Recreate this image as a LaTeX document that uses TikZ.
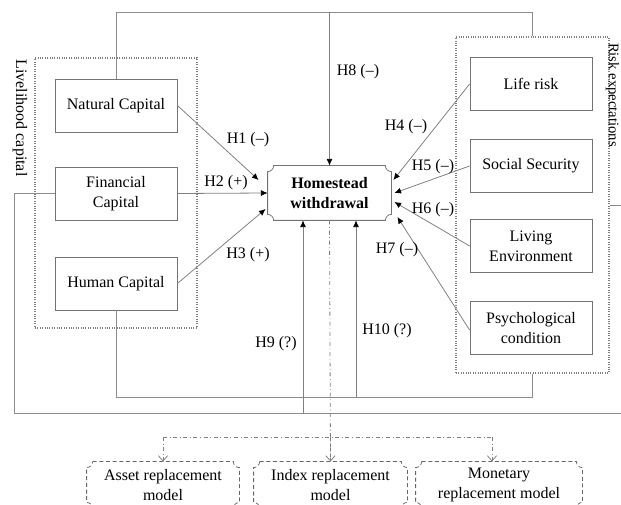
\documentclass[tikz,border=0pt]{standalone}
\usepackage{fontspec}
\setmainfont{Liberation Serif}
\usepackage{tikz}
\usetikzlibrary{arrows.meta, calc, positioning}

% box with hollow (concave) corners
\newcommand{\scallop}[2][]{%
  \draw[#1] ($(#2.north west)+(6,0)$) -- ($(#2.north east)+(-6,0)$)
    arc[start angle=180, end angle=270, radius=4.5pt]
    -- ($(#2.south east)+(0,-6)$)
    arc[start angle=90, end angle=180, radius=4.5pt]
    -- ($(#2.south west)+(6,0)$)
    arc[start angle=0, end angle=90, radius=4.5pt]
    -- ($(#2.north west)+(0,6)$)
    arc[start angle=270, end angle=360, radius=4.5pt] -- cycle;}

\begin{document}
\begin{tikzpicture}[x=0.75pt, y=-0.75pt, line width=0.6pt,
    font=\fontsize{12}{15}\selectfont,
    capbox/.style={draw=black!55, minimum width=91.5pt, minimum height=39.75pt, align=center, inner sep=1pt},
    groupbox/.style={draw=black!50, densely dotted, line width=0.8pt},
    link/.style={draw=black!45},
    hyp/.style={draw=black!50, -{Latex[length=5pt, width=4.5pt, color=black]}},
    model/.style={draw=black!50, dash dot},
    modelbox/.style={minimum height=34.5pt, align=center, inner sep=1pt}]
  \useasboundingbox (0,0) rectangle (621,505);

  % livelihood capital
  \node[groupbox, minimum width=121.5pt, minimum height=202.5pt] (lc) at (116,193) {};
  \node[rotate=-90] (lclabel) at (20,118) {Livelihood capital};
  \node[capbox] (nat) at (116,105.5) {Natural Capital};
  \node[capbox] (fin) at (116,193.5) {Financial\\Capital};
  \node[capbox] (hum) at (116,283.5) {Human Capital};

  % risk expectations
  \node[groupbox, minimum width=114.75pt, minimum height=252pt] (risk) at (532.5,205) {};
  \node[rotate=-90, inner sep=0pt, font=\fontsize{11}{13}\selectfont] (risklabel) at (612.5,95) {Risk expectations};
  \node[capbox] (life) at (531,84) {Life risk};
  \node[capbox] (soc) at (531,166) {Social Security};
  \node[capbox] (liv) at (531,246) {Living\\Environment};
  \node[capbox] (psy) at (531,328) {Psychological\\condition};

  % outcome
  \node[minimum width=92.25pt, minimum height=40.5pt, align=center, font=\fontsize{12}{15}\selectfont\bfseries] (hw) at (329.5,193) {Homestead\\withdrawal};
  \scallop[draw=black!55]{hw}

  % loops
  \coordinate (ttop) at (0,12);
  \coordinate (bin) at (0,397);
  \coordinate (bout) at (14,413);
  \coordinate (far) at (630,0);
  \draw[link] (nat.north) |- (ttop -| risk.north) -- (risk.north);
  \draw[link] (hum.south) |- (bin -| risk.south) -- (risk.south);
  \draw[link] (fin.west) -| (bout) -- (bout -| far) |- (risk.east);

  % hypotheses
  \draw[hyp] (nat.east) -- ($(hw.west)+(-9,-13)$);
  \draw[hyp] (fin.east) -- (hw.west);
  \draw[hyp] (hum.east) -- ($(hw.west)+(-2,16)$);
  \draw[hyp] (life.west) -- ($(hw.east)+(2,-13)$);
  \draw[hyp] (soc.west) -- ($(hw.east)+(3,0)$);
  \draw[hyp] (liv.west) -- ($(hw.east)+(3,9)$);
  \draw[hyp] ($(psy.west)+(0,2)$) -- ($(hw.east)+(6,24)$);
  \draw[hyp] (hw.north |- ttop) -- (hw.north);
  \coordinate (h9) at (303,413);
  \coordinate (h10) at (356,397);
  \draw[hyp] (h9) -- (h9 |- hw.south);
  \draw[hyp] (h10) -- (h10 |- hw.south);

  \node (l1) at (248,140) {H1 (–)};
  \node (l2) at (226,183) {H2 (+)};
  \node (l3) at (248,255) {H3 (+)};
  \node (l4) at (406,127) {H4 (–)};
  \node (l5) at (433,167) {H5 (–)};
  \node (l6) at (433,210) {H6 (–)};
  \node (l7) at (397,250) {H7 (–)};
  \node (l8) at (358,72) {H8 (–)};
  \node (l9) at (276,344) {H9 (?)};
  \node (l10) at (387,331) {H10 (?)};

  % replacement models
  \node[modelbox, minimum width=114pt] (asset) at (163,485) {Asset replacement\\model};
  \node[modelbox, minimum width=114.75pt] (index) at (330.5,485) {Index replacement\\model};
  \node[modelbox, minimum width=124.5pt] (mon) at (499,485) {Monetary\\replacement model};
  \foreach \m in {asset, index, mon} {
    \scallop[draw=black!60, densely dashed]{\m}
  }
  \coordinate (msplit) at (0,437);
  \draw[model] (hw.south) -- (index.north);
  \draw[model] (asset.north |- msplit) -- ($(mon.north |- msplit)+(-7,0)$);
  \draw[model, -{Straight Barb[length=4pt, width=7pt]}] (asset.north |- msplit) -- (asset.north);
  \draw[model, -{Straight Barb[length=4pt, width=7pt]}] ($(hw.south)!0.9!(index.north)$) -- (index.north);
  \draw[model, -{Straight Barb[length=4pt, width=7pt]}] ($(mon.north |- msplit)+(-7,0)$) -- ($(mon.north)+(-7,0)$);
\end{tikzpicture}
\end{document}
